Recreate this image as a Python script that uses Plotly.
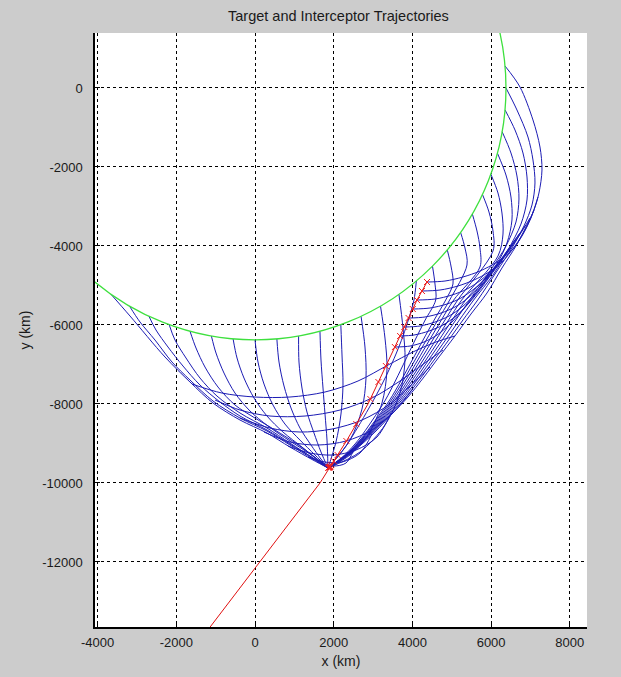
import plotly.graph_objects as go

# ---------------- data (km) ----------------
earth_radius = 6378

# target trajectories, one per launch angle (-125 deg ... +5 deg)
spoke_x = [
    [-3658, -3176, -2287, -1652, -1067, -381, 305, 889, 1474, 1855],
    [-3189, -2922, -2541, -2109, -1652, -1067, -381, 305, 889, 1474, 1855],
    [-2695, -2516, -2211, -1830, -1398, -889, -381, 305, 889, 1474, 1855],
    [-2181, -2033, -1753, -1398, -966, -381, 305, 889, 1474, 1855],
    [-1651, -1499, -1271, -940, -508, 0, 508, 1067, 1550, 1855],
    [-1108, -991, -788, -508, -127, 330, 889, 1398, 1855],
    [-556, -457, -280, -25, 305, 711, 1194, 1601, 1855],
    [0, 76, 229, 457, 762, 1143, 1525, 1855],
    [556, 610, 737, 915, 1143, 1423, 1677, 1855],
    [1108, 1118, 1194, 1321, 1499, 1677, 1855],
    [1651, 1677, 1728, 1779, 1830, 1855],
    [2181, 2211, 2236, 2185, 2058, 1855],
    [2695, 2795, 2821, 2719, 2414, 1855],
    [3189, 3303, 3354, 3227, 2871, 2414, 1855],
    [3658, 3761, 3812, 3684, 3303, 2668, 1855],
    [4100, 4040, 3913, 3761, 3583, 3380, 3151, 2897, 2617, 2312, 2033, 1855],
    [4510, 4574, 4592, 4325, 4068, 3824, 3578, 3313, 2986, 2625, 2277, 1855],
    [4886, 4980, 5031, 4846, 4553, 4271, 3997, 3720, 3423, 3062, 2668, 2297, 1855],
    [5225, 5336, 5387, 4947, 4645, 4353, 4066, 3778, 3466, 3092, 2686, 2305, 1855],
    [5523, 5641, 5717, 5717, 5049, 4736, 4434, 4137, 3834, 3512, 3123, 2701, 2315, 1855],
    [5780, 5946, 6048, 6048, 5151, 4828, 4515, 4205, 3893, 3555, 3153, 2719, 2323, 1855],
    [5993, 6175, 6276, 6302, 6175, 5252, 4919, 4597, 4274, 3949, 3598, 3184, 2737, 2330, 1855],
    [6161, 6378, 6505, 6530, 6403, 6124, 5354, 5011, 4678, 4343, 4005, 3641, 3214, 2754, 2338, 1855],
    [6281, 6505, 6657, 6708, 6632, 6378, 6022, 5456, 5102, 4759, 4411, 4063, 3684, 3245, 2772, 2345, 1855],
    [6354, 6607, 6810, 6912, 6912, 6759, 6429, 6048, 5557, 5194, 4841, 4482, 4119, 3730, 3275, 2787, 2355, 1855],
    [6378, 6657, 6937, 7064, 7115, 7039, 6835, 6530, 6149, 5659, 5285, 4922, 4551, 4177, 3773, 3306, 2805, 2363, 1855],
    [6354, 6734, 7064, 7242, 7293, 7216, 7089, 6912, 6632, 6276, 5895, 5489, 5082, 4675, 4294, 3888, 3481, 3049, 2541, 2134, 1855],
]
spoke_y = [
    [-5225, -5773, -6811, -7444, -7976, -8406, -8735, -9090, -9419, -9620],
    [-5523, -5925, -6381, -6938, -7393, -7925, -8356, -8685, -9039, -9394, -9620],
    [-5780, -6127, -6558, -7039, -7520, -7950, -8305, -8659, -9014, -9368, -9620],
    [-5993, -6381, -6836, -7343, -7799, -8229, -8609, -8989, -9368, -9620],
    [-6161, -6583, -7064, -7571, -8026, -8356, -8659, -9014, -9368, -9620],
    [-6281, -6710, -7216, -7723, -8178, -8558, -8938, -9267, -9620],
    [-6354, -6836, -7343, -7849, -8305, -8710, -9090, -9419, -9620],
    [-6378, -6938, -7495, -8026, -8508, -8913, -9292, -9620],
    [-6354, -6938, -7545, -8102, -8609, -9039, -9394, -9620],
    [-6281, -6938, -7596, -8204, -8735, -9216, -9620],
    [-6161, -6887, -7596, -8254, -8913, -9620],
    [-5993, -6760, -7520, -8254, -8963, -9620],
    [-5780, -6558, -7343, -8128, -8913, -9620],
    [-5523, -6330, -7140, -7976, -8786, -9292, -9620],
    [-5225, -6077, -6887, -7723, -8533, -9216, -9620],
    [-4886, -5368, -5824, -6279, -6735, -7191, -7647, -8102, -8583, -9065, -9419, -9620],
    [-4510, -4963, -5368, -5874, -6381, -6887, -7393, -7900, -8406, -8913, -9292, -9620],
    [-4100, -4507, -4963, -5368, -5874, -6381, -6887, -7393, -7900, -8406, -8913, -9292, -9620],
    [-3658, -4051, -4482, -5368, -5874, -6381, -6887, -7393, -7900, -8406, -8913, -9292, -9620],
    [-3189, -3621, -4051, -4532, -5368, -5874, -6381, -6887, -7393, -7900, -8406, -8913, -9292, -9620],
    [-2695, -3140, -3621, -4127, -5368, -5874, -6381, -6887, -7393, -7900, -8406, -8913, -9292, -9620],
    [-2181, -2659, -3165, -3697, -4254, -5368, -5874, -6381, -6887, -7393, -7900, -8406, -8913, -9292, -9620],
    [-1651, -2203, -2760, -3342, -3925, -4482, -5368, -5874, -6381, -6887, -7393, -7900, -8406, -8913, -9292, -9620],
    [-1108, -1646, -2228, -2811, -3393, -4001, -4558, -5368, -5874, -6381, -6887, -7393, -7900, -8406, -8913, -9292, -9620],
    [-556, -1063, -1646, -2253, -2836, -3444, -4102, -4735, -5368, -5874, -6381, -6887, -7393, -7900, -8406, -8913, -9292, -9620],
    [0, -557, -1241, -1823, -2405, -2962, -3494, -4051, -4634, -5368, -5874, -6381, -6887, -7393, -7900, -8406, -8913, -9292, -9620],
    [556, 25, -810, -1494, -2076, -2659, -3089, -3469, -4001, -4558, -5191, -5722, -6279, -6811, -7317, -7824, -8254, -8710, -9166, -9470, -9620],
]

# equal-time curves across the trajectories
arc_x = [
    [4371, 4828, 5285, 5717, 6149, 6530, 6785, 7013, 7191],
    [4243, 4701, 5158, 5565, 5946, 6276, 6607, 6886, 7089],
    [4116, 4574, 5006, 5387, 5743, 6073, 6403, 6708, 6988],
    [4010, 4447, 4879, 5234, 5565, 5895, 6225, 6556, 6861],
    [3903, 4320, 4726, 5082, 5412, 5743, 6073, 6403, 6734],
    [3794, 4193, 4574, 4930, 5260, 5590, 5921, 6276, 6632],
    [3687, 4040, 4421, 4777, 5107, 5438, 5768, 6124, 6505],
    [3555, 3939, 4294, 4625, 4930, 5234, 5565, 5921, 6302],
    [-1601, -839, 0, 889, 1779, 2617, 3380, 4066, 4599, 5082],
    [-1016, -381, 381, 1271, 2160, 2973, 3684, 4243, 4777],
    [-381, 381, 1143, 1957, 2719, 3430, 3939, 4447],
    [229, 889, 1601, 2312, 2973, 3507, 3989],
    [839, 1398, 1982, 2566, 3100, 3456],
    [1347, 1779, 2211, 2668, 2973],
    [1651, 1982, 2312, 2516],
]
arc_y = [
    [-4912, -4887, -4785, -4634, -4406, -4102, -3747, -3292, -2760],
    [-5140, -5115, -5013, -4861, -4659, -4406, -4001, -3545, -3089],
    [-5368, -5343, -5241, -5089, -4861, -4558, -4178, -3747, -3292],
    [-5596, -5570, -5469, -5317, -5089, -4785, -4380, -3925, -3494],
    [-5824, -5798, -5697, -5545, -5317, -4988, -4583, -4127, -3671],
    [-6051, -6026, -5925, -5773, -5545, -5216, -4811, -4330, -3849],
    [-6279, -6254, -6153, -6001, -5773, -5444, -5039, -4558, -4051],
    [-6558, -6533, -6431, -6254, -6001, -5672, -5267, -4785, -4279],
    [-7495, -7723, -7824, -7824, -7697, -7419, -7014, -6659, -6431, -6279],
    [-7900, -8153, -8305, -8305, -8153, -7849, -7419, -7014, -6634],
    [-8356, -8609, -8710, -8634, -8406, -8001, -7545, -7064],
    [-8710, -8963, -9039, -8938, -8659, -8229, -7647],
    [-9065, -9242, -9292, -9166, -8837, -8229],
    [-9343, -9470, -9470, -9242, -8761],
    [-9495, -9571, -9495, -9141],
]

# interceptor path and its sampled positions
interceptor_x = [-1220, 127, 1652, 1906, 2338, 2871, 3303, 3735, 4116, 4371]
interceptor_y = [-13750, -12000, -10000, -9596, -8913, -8001, -7090, -6178, -5368, -4912]
marker_x = [4371, 4243, 4116, 4010, 3903, 3794, 3687, 3555, 3326, 3136, 2932, 2574, 2322, 2099,
            2002, 1939, 1906, 1890, 1875, 1862, 1920]
marker_y = [-4912, -5140, -5368, -5596, -5824, -6051, -6279, -6558, -7039, -7444, -7875, -8508,
            -8938, -9292, -9444, -9546, -9596, -9605, -9612, -9618, -9580]

x_ticks = [-4000, -2000, 0, 2000, 4000, 6000, 8000]
y_ticks = [-12000, -10000, -8000, -6000, -4000, -2000, 0]

# ---------------- figure ----------------
BLUE = '#1c1cb4'
FONT = 'Liberation Sans, Arial, sans-serif'
TEXT = '#1a1a1a'
fig = go.Figure()

for xs, ys in zip(spoke_x, spoke_y):
    fig.add_trace(go.Scatter(x=xs, y=ys, mode='lines',
                             line=dict(color=BLUE, width=1, shape='spline', smoothing=0.9),
                             hoverinfo='skip', showlegend=False))
for xs, ys in zip(arc_x, arc_y):
    fig.add_trace(go.Scatter(x=xs, y=ys, mode='lines',
                             line=dict(color=BLUE, width=1, shape='spline', smoothing=0.9),
                             hoverinfo='skip', showlegend=False))

fig.add_shape(type='circle', xref='x', yref='y',
              x0=-earth_radius, y0=-earth_radius, x1=earth_radius, y1=earth_radius,
              line=dict(color='#3ee03e', width=1.3), layer='above')

fig.add_trace(go.Scatter(x=interceptor_x, y=interceptor_y, mode='lines',
                         line=dict(color='#e01010', width=1),
                         hoverinfo='skip', showlegend=False))
fig.add_trace(go.Scatter(x=marker_x, y=marker_y, mode='markers',
                         marker=dict(symbol='x-thin', size=6, line=dict(color='#f02020', width=1)),
                         hoverinfo='skip', showlegend=False))

axis_common = dict(showgrid=True, gridcolor='black', griddash='dot', gridwidth=1,
                   zeroline=False, showline=True, linecolor='black', linewidth=1.5,
                   ticks='inside', ticklen=5, tickcolor='black', automargin=False,
                   tickfont=dict(family=FONT, size=13, color=TEXT), mirror=False)

fig.update_layout(
    width=621, height=677,
    paper_bgcolor='#cccccc', plot_bgcolor='white',
    margin=dict(l=95, r=34, t=33, b=50),
    title=dict(text='Target and Interceptor Trajectories', x=0.545, xanchor='center',
               y=0.976, yanchor='middle', font=dict(family=FONT, size=14.5, color=TEXT)),
    xaxis=dict(range=[-4066, 8437], tickvals=x_ticks, ticktext=[str(v) for v in x_ticks],
               ticklabelstandoff=3,
               title=dict(text='x (km)', standoff=7, font=dict(family=FONT, size=14, color=TEXT)),
               **axis_common),
    yaxis=dict(range=[-13646, 1392], tickvals=y_ticks, ticktext=[str(v) for v in y_ticks],
               ticklabelstandoff=8,
               title=dict(text='y (km)', standoff=8, font=dict(family=FONT, size=14, color=TEXT)),
               **axis_common),
)

fig.write_html('out.html', config={'displayModeBar': False},
               post_script="document.body.style.margin='0';document.body.style.background='#cccccc';")
